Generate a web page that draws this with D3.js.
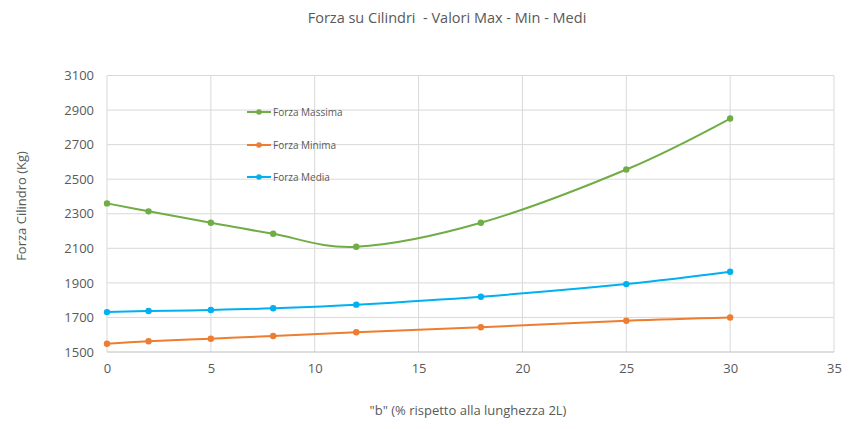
<!DOCTYPE html>
<html><head><meta charset="utf-8">
<script src="https://cdn.jsdelivr.net/npm/d3@7"></script>
<style>body{margin:0;background:#fff;} svg{display:block;}</style>
</head><body>
<svg id="c" width="850" height="429"></svg>
<script>
const xValues = [0, 2, 5, 8, 12, 18, 25, 30];
const forzaMassima = [2360, 2314, 2248, 2184, 2109, 2248, 2556, 2851];
const forzaMinima = [1548, 1562, 1577, 1593, 1614, 1643, 1681, 1700];
const forzaMedia = [1731, 1737, 1743, 1753, 1774, 1820, 1893, 1964];
const seriesNames = ["Forza Massima", "Forza Minima", "Forza Media"];
const xTicks = [0, 5, 10, 15, 20, 25, 30, 35];
const yTicks = [1500, 1700, 1900, 2100, 2300, 2500, 2700, 2900, 3100];

const colors = ["#70AD47", "#ED7D31", "#00B0F0"];
const seriesData = [forzaMassima, forzaMinima, forzaMedia];
const font = "'Open Sans', sans-serif";
const txt = "#595959";

const svg = d3.select("#c");
const L = 107, R = 834, T = 75.5, B = 352;
const x = d3.scaleLinear().domain([0, 35]).range([L, R]);
const y = d3.scaleLinear().domain([1500, 3100]).range([B, T]);

// gridlines
svg.append("g").selectAll("line").data(yTicks.slice(1)).join("line")
  .attr("x1", L).attr("x2", R).attr("y1", d => y(d)).attr("y2", d => y(d))
  .attr("stroke", "#d9d9d9").attr("stroke-width", 1);
svg.append("g").selectAll("line").data(xTicks).join("line")
  .attr("y1", T).attr("y2", B).attr("x1", d => x(d)).attr("x2", d => x(d))
  .attr("stroke", "#d9d9d9").attr("stroke-width", 1);
svg.append("line").attr("x1", L).attr("x2", R).attr("y1", B).attr("y2", B).attr("stroke", "#bfbfbf");

const yAxis = svg.append("g").attr("transform", `translate(${L},0)`)
  .call(d3.axisLeft(y).tickValues(yTicks).tickFormat(d3.format("d")).tickSize(0).tickPadding(13));
yAxis.select(".domain").remove();
yAxis.selectAll("text").attr("fill", txt).style("font-family", font).style("font-size", "13px");

const xAxis = svg.append("g").attr("transform", `translate(0,${B})`)
  .call(d3.axisBottom(x).tickValues(xTicks).tickFormat(d3.format("d")).tickSize(0).tickPadding(12));
xAxis.select(".domain").remove();
xAxis.selectAll("text").attr("fill", txt).style("font-family", font).style("font-size", "13px");

const line = d3.line().x((d, i) => x(xValues[i])).y(d => y(d)).curve(d3.curveCardinal.tension(0));
seriesData.forEach((s, k) => {
  svg.append("path").datum(s).attr("d", line).attr("fill", "none")
    .attr("stroke", colors[k]).attr("stroke-width", 2);
  svg.append("g").selectAll("circle").data(s).join("circle")
    .attr("cx", (d, i) => x(xValues[i])).attr("cy", d => y(d)).attr("r", 3.2)
    .attr("fill", colors[k]);
});

const legY = [112, 145, 177];
seriesNames.forEach((n, k) => {
  const g = svg.append("g");
  g.append("line").attr("x1", 247).attr("x2", 271).attr("y1", legY[k]).attr("y2", legY[k])
    .attr("stroke", colors[k]).attr("stroke-width", 2);
  g.append("circle").attr("cx", 259).attr("cy", legY[k]).attr("r", 2.8).attr("fill", colors[k]);
  g.append("text").attr("x", 273).attr("y", legY[k]).attr("dy", "0.35em")
    .attr("fill", txt).style("font-family", font).style("font-size", "10px").text(n);
});

svg.append("text").attr("x", 447).attr("y", 23).attr("text-anchor", "middle")
  .attr("fill", txt).style("font-family", font).style("font-size", "14.5px")
  .attr("xml:space", "preserve").text("Forza su Cilindri  - Valori Max - Min - Medi");
svg.append("text").attr("x", 468).attr("y", 415).attr("text-anchor", "middle")
  .attr("fill", txt).style("font-family", font).style("font-size", "13px")
  .text('"b" (% rispetto alla lunghezza 2L)');
svg.append("text").attr("transform", "translate(26,206) rotate(-90)").attr("text-anchor", "middle")
  .attr("fill", txt).style("font-family", font).style("font-size", "13px")
  .text("Forza Cilindro (Kg)");
</script>
</body></html>
